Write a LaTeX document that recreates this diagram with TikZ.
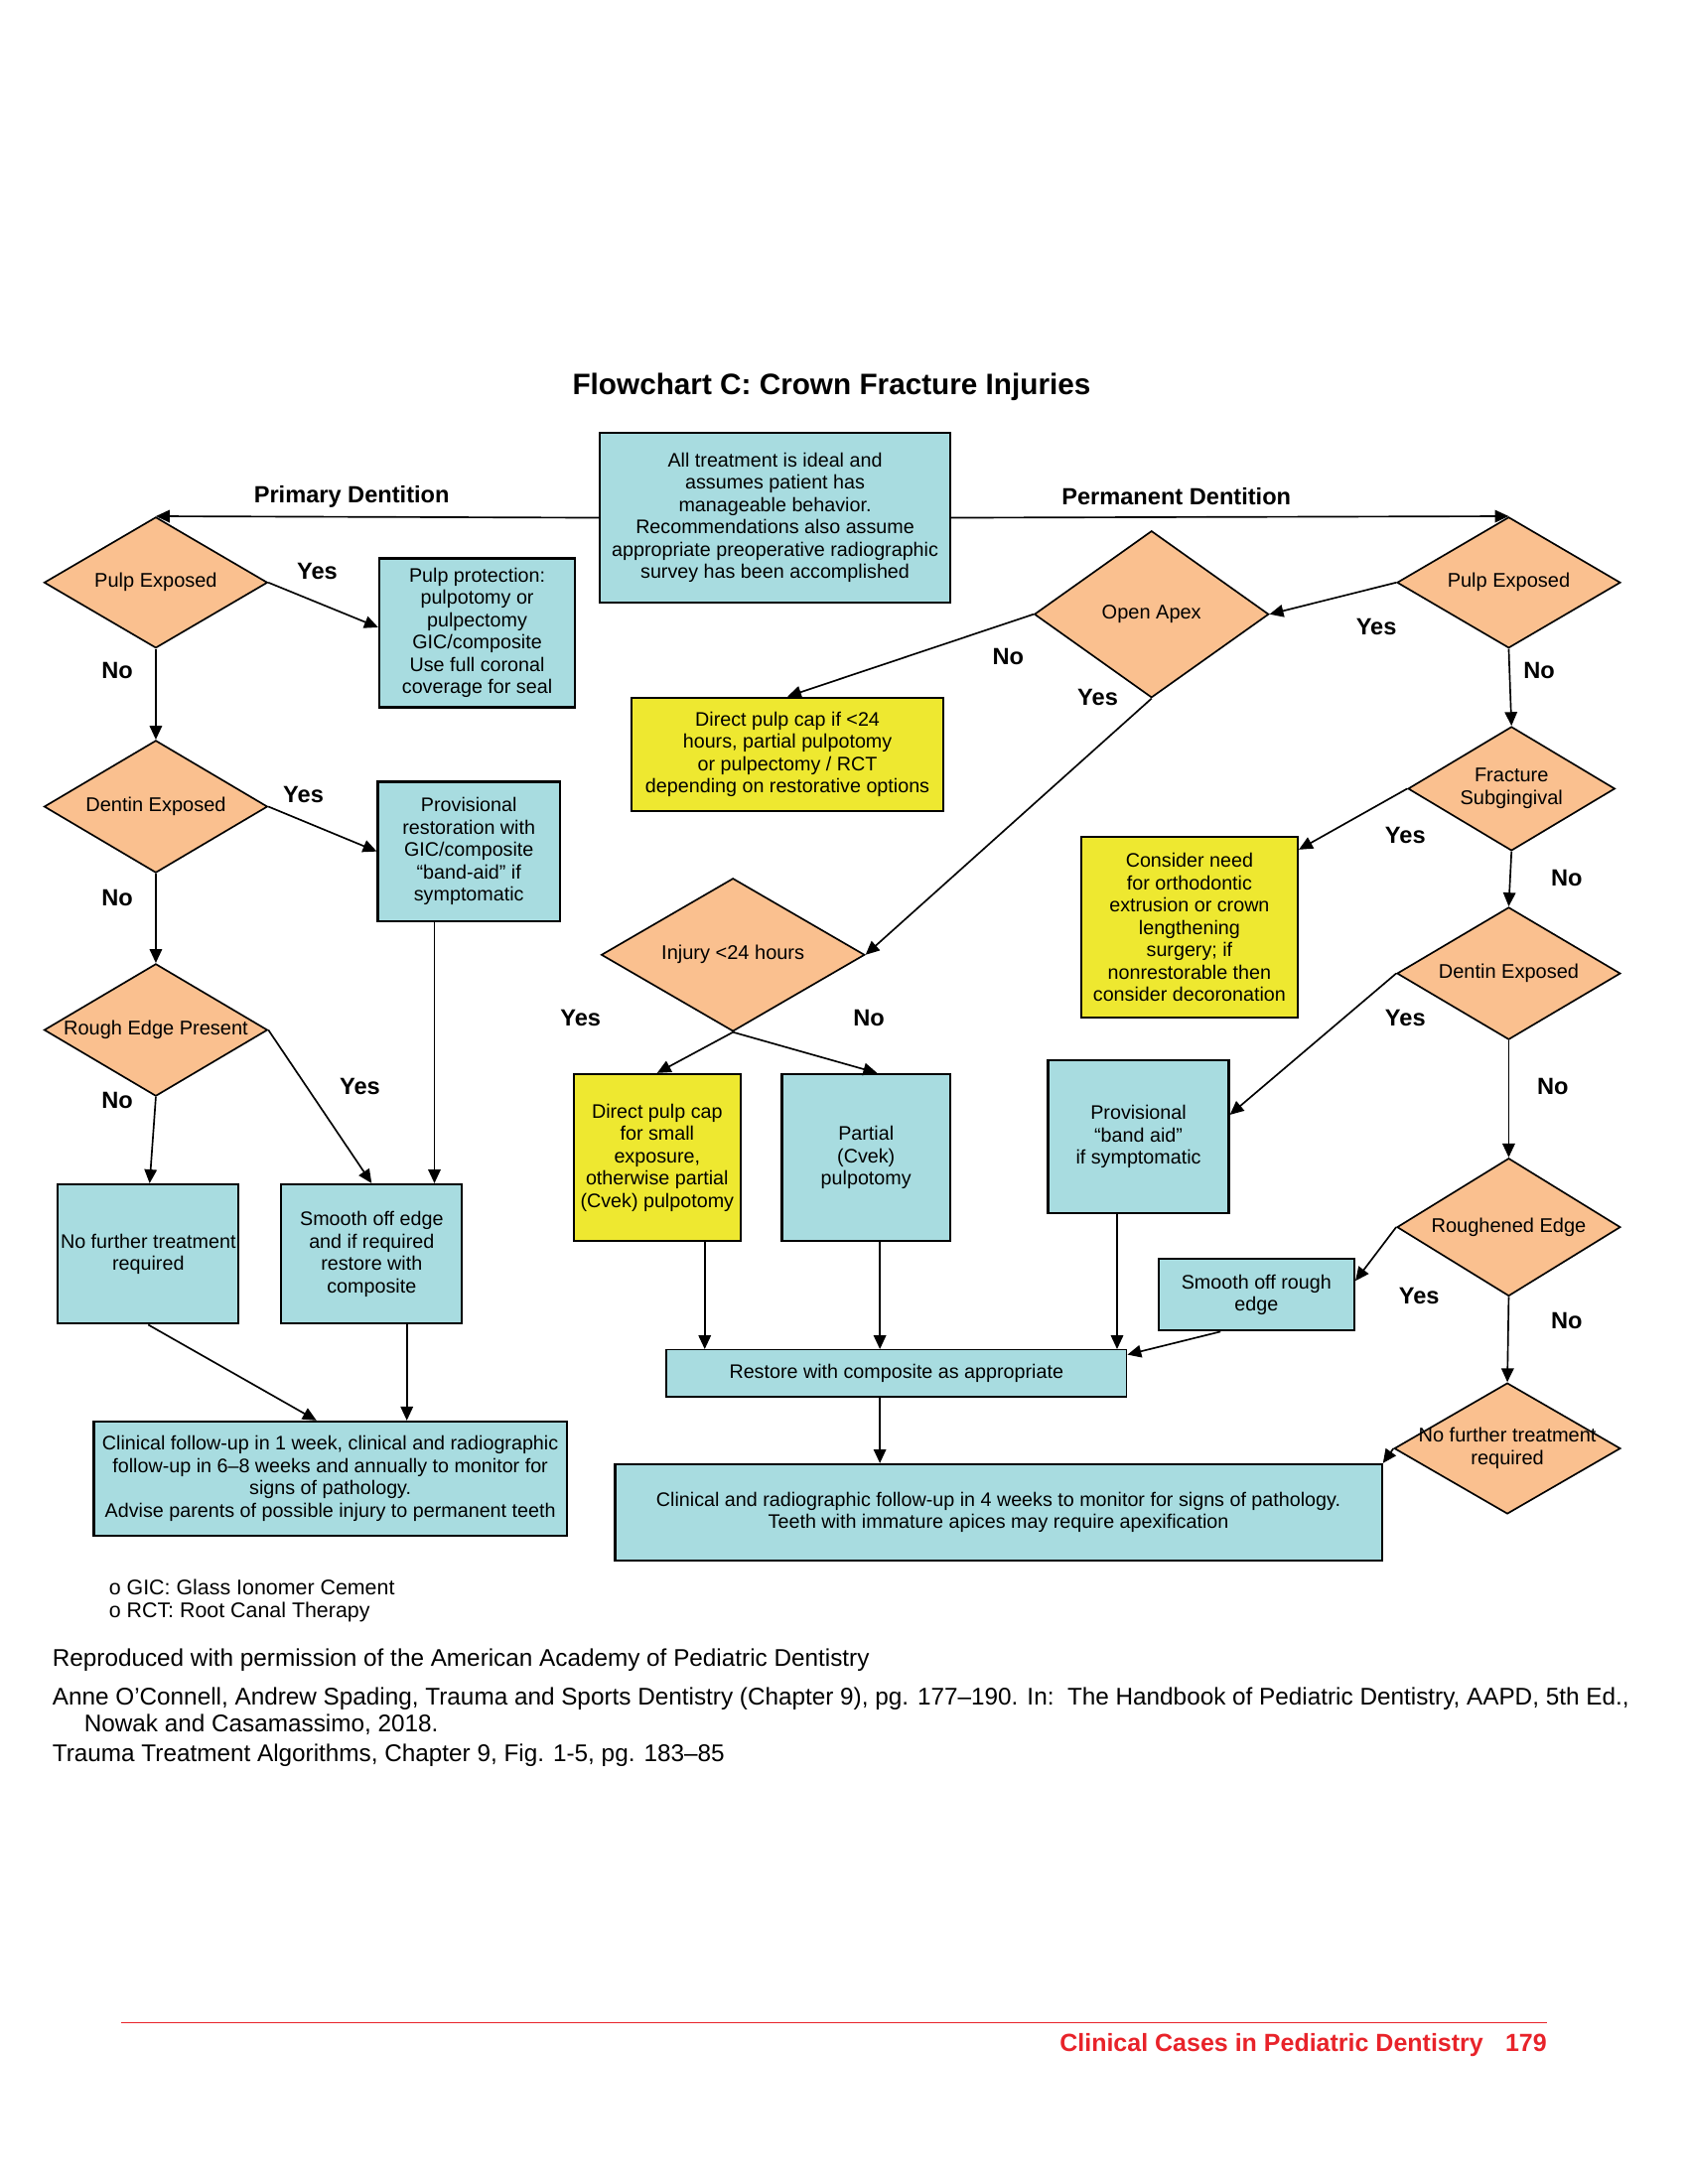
\documentclass[tikz,border=0pt]{standalone}
\usepackage{fontspec}
\setmainfont{Liberation Sans}
\usetikzlibrary{arrows.meta,shapes.geometric}

\definecolor{peach}{RGB}{250,192,143}
\definecolor{aqua}{RGB}{168,220,224}
\definecolor{lemon}{RGB}{238,232,48}
\definecolor{pagered}{RGB}{232,35,42}

\tikzset{
  box/.style={draw, line width=0.8pt, fill=aqua, align=center, inner sep=0pt,
    font=\fontsize{7.1}{8.1}\selectfont},
  ybox/.style={box, fill=lemon},
  dec/.style={diamond, draw, line width=0.6pt, fill=peach, inner sep=0pt,
    minimum width=81pt, minimum height=47.5pt,
    label={[align=center, font=\fontsize{7.2}{8.4}\selectfont]center:#1}},
  yn/.style={font=\bfseries\fontsize{8.5}{10}\selectfont},
  arr/.style={line width=0.6pt, -{Triangle[length=5pt,width=4.5pt]}},
  note/.style={anchor=west, font=\fontsize{8.75}{10.5}\selectfont},
}

\begin{document}
\begin{tikzpicture}[x=0.5pt, y=-0.5pt]
  \useasboundingbox (0,0) rectangle (1224,1584);

  % Title
  \node[font=\bfseries\fontsize{10.7}{12.8}\selectfont] (title) at (603,281) {Flowchart C: Crown Fracture Injuries};

  % Start
  \node[box, minimum width=127pt, minimum height=61.5pt] (intro) at (562,375.5)
    {All treatment is ideal and\\ assumes patient has\\ manageable behavior.\\ Recommendations also assume\\ appropriate preoperative radiographic\\ survey has been accomplished};
  \node[yn] (prim) at (255,360) {Primary Dentition};
  \node[yn] (perm) at (853,360) {Permanent Dentition};

  % Primary dentition
  \node[dec=Pulp Exposed] (pulpL) at (113,422.5) {};
  \node[box, minimum width=71pt, minimum height=54pt] (protL) at (346,459)
    {Pulp protection:\\ pulpotomy or\\ pulpectomy\\ GIC/composite\\ Use full coronal\\ coverage for seal};
  \node[dec=Dentin Exposed, minimum height=48pt] (dentL) at (113,585) {};
  \node[box, minimum width=66pt, minimum height=50.5pt] (provL) at (340,617.5)
    {Provisional\\ restoration with\\ GIC/composite\\ “band-aid” if\\ symptomatic};
  \node[dec=Rough Edge Present, minimum height=48pt] (roughL) at (113,747) {};
  \node[box, minimum width=65.5pt, minimum height=50.5pt] (nofL) at (107.5,909.5)
    {No further treatment\\ required};
  \node[box, minimum width=65.5pt, minimum height=50.5pt] (smoothL) at (269.5,909.5)
    {Smooth off edge\\ and if required\\ restore with\\ composite};
  \node[box, minimum width=171.5pt, minimum height=41.5pt] (folL) at (239.5,1072.5)
    {Clinical follow-up in 1 week, clinical and radiographic\\ follow-up in 6--8 weeks and annually to monitor for\\ signs of pathology.\\ Advise parents of possible injury to permanent teeth};

  \draw[arr] (intro.west) -- (pulpL.north);
  \draw[arr] (pulpL.east) -- ([yshift=2pt]protL.west);
  \draw[arr] (pulpL.south) -- (dentL.north);
  \draw[arr] (dentL.east) -- (provL.west);
  \draw[arr] (dentL.south) -- (roughL.north);
  \draw[arr] (roughL.south) -- ([xshift=0.5pt]nofL.north);
  \draw[arr] (roughL.east) -- (smoothL.north);
  \draw[arr] ([xshift=-12.5pt]provL.south) -- ([xshift=-12.5pt]provL.south |- smoothL.north);
  \draw[arr] (nofL.south) -- ([xshift=-5pt]folL.north);
  \draw[arr] ([xshift=12.75pt]smoothL.south) -- ([xshift=12.75pt]smoothL.south |- folL.north);

  \node[yn] (yesL1) at (230,414) {Yes};
  \node[yn] (noL1) at (85,486) {No};
  \node[yn] (yesL2) at (220,576) {Yes};
  \node[yn] (noL2) at (85,651) {No};
  \node[yn] (noL3) at (85,798) {No};
  \node[yn] (yesL3) at (261,788) {Yes};

  % Permanent dentition
  \node[dec=Pulp Exposed] (pulpR) at (1094,422.5) {};
  \node[dec=Open Apex, minimum width=85pt, minimum height=60.5pt] (apex) at (835,445.5) {};
  \node[ybox, minimum width=113pt, minimum height=41pt] (capA) at (571,547)
    {Direct pulp cap if <24\\ hours, partial pulpotomy\\ or pulpectomy / RCT\\ depending on restorative options};
  \node[dec={Injury <24 hours}, minimum width=95.5pt, minimum height=55.5pt] (injury) at (531.5,692.5) {};
  \node[ybox, minimum width=60.5pt, minimum height=60.5pt] (capB) at (476.5,839.5)
    {Direct pulp cap\\ for small\\ exposure,\\ otherwise partial\\ (Cvek) pulpotomy};
  \node[box, minimum width=61pt, minimum height=60.5pt] (cvek) at (628,839.5)
    {Partial\\ (Cvek)\\ pulpotomy};
  \node[dec={Fracture\\ Subgingival}, minimum width=75pt, minimum height=45pt] (subg) at (1096,572) {};
  \node[ybox, minimum width=78.5pt, minimum height=65.5pt] (ortho) at (862.5,672.5)
    {Consider need\\ for orthodontic\\ extrusion or crown\\ lengthening\\ surgery; if\\ nonrestorable then\\ consider decoronation};
  \node[dec=Dentin Exposed, minimum height=48pt] (dentR) at (1094,706) {};
  \node[box, minimum width=65.5pt, minimum height=55.5pt] (provR) at (825.5,824.5)
    {Provisional\\ “band aid”\\ if symptomatic};
  \node[dec=Roughened Edge, minimum height=50pt] (roughR) at (1094,890) {};
  \node[box, minimum width=71pt, minimum height=26pt] (smoothR) at (911,939)
    {Smooth off rough\\ edge};
  \node[dec={No further treatment\\ required}, minimum width=82pt] (nofR) at (1093,1050.5) {};
  \node[box, minimum width=167pt, minimum height=17pt, line width=0.5pt] (restore) at (650,996)
    {Restore with composite as appropriate};
  \node[box, minimum width=278pt, minimum height=35pt] (folR) at (724,1097)
    {Clinical and radiographic follow-up in 4 weeks to monitor for signs of pathology.\\ Teeth with immature apices may require apexification};

  \draw[arr] (intro.east) -- (pulpR.north);
  \draw[arr] (pulpR.west) -- (apex.east);
  \draw[arr] (apex.west) -- (capA.north);
  \draw[arr] (apex.south) -- (injury.east);
  \draw[arr] (injury.south) -- (capB.north);
  \draw[arr] (injury.south) -- ([xshift=4pt]cvek.north);
  \draw[arr] (pulpR.south) -- (subg.north);
  \draw[arr] (subg.west) -- ([yshift=-5pt]ortho.north east);
  \draw[arr] (subg.south) -- (dentR.north);
  \draw[arr] (dentR.west) -- ([yshift=8pt]provR.east);
  \draw[arr] (dentR.south) -- (roughR.north);
  \draw[arr] (roughR.west) -- ([yshift=5pt]smoothR.east);
  \draw[arr] (roughR.south) -- (nofR.north);
  \draw[arr] ([xshift=17.25pt]capB.south) -- ([xshift=17.25pt]capB.south |- restore.north);
  \draw[arr] ([xshift=5pt]cvek.south) -- ([xshift=5pt]cvek.south |- restore.north);
  \draw[arr] ([xshift=-7.75pt]provR.south) -- ([xshift=-7.75pt]provR.south |- restore.north);
  \draw[arr] ([xshift=-13pt]smoothR.south) -- ([yshift=-2pt]restore.north east);
  \draw[arr] ([xshift=-6pt]restore.south) -- ([xshift=-6pt]restore.south |- folR.north);
  \draw[arr] (nofR.west) -- (folR.north east);

  \node[yn] (yesR1) at (998,455) {Yes};
  \node[yn] (noR1) at (1116,486) {No};
  \node[yn] (noA) at (731,476) {No};
  \node[yn] (yesA) at (796,506) {Yes};
  \node[yn] (yesI) at (421,738) {Yes};
  \node[yn] (noI) at (630,738) {No};
  \node[yn] (yesR2) at (1019,606) {Yes};
  \node[yn] (noR2) at (1136,637) {No};
  \node[yn] (yesR3) at (1019,738) {Yes};
  \node[yn] (noR3) at (1126,788) {No};
  \node[yn] (yesR4) at (1029,940) {Yes};
  \node[yn] (noR4) at (1136,958) {No};

  % Legend and sources
  \node[note, font=\fontsize{7.7}{9}\selectfont] (gic) at (72,1151) {o GIC: Glass Ionomer Cement};
  \node[note, font=\fontsize{7.7}{9}\selectfont] (rct) at (72,1169) {o RCT: Root Canal Therapy};
  \node[note] (perm1) at (31,1204) {Reproduced with permission of the American Academy of Pediatric Dentistry};
  \node[note] (src1) at (31,1232) {Anne O’Connell, Andrew Spading, Trauma and Sports Dentistry (Chapter 9), pg. 177--190. In:\ \ The Handbook of Pediatric Dentistry, AAPD, 5th Ed.,};
  \node[note] (src2) at (54,1251) {Nowak and Casamassimo, 2018.};
  \node[note] (src3) at (31,1273) {Trauma Treatment Algorithms, Chapter 9, Fig. 1-5, pg. 183--85};

  % Page footer
  \draw[pagered, line width=0.5pt] (88,1467) -- (1122,1467);
  \node[anchor=east, text=pagered, font=\bfseries\fontsize{9}{11}\selectfont, inner sep=0pt] (foot) at (1122,1483)
    {Clinical Cases in Pediatric Dentistry\hspace{8pt}179};
\end{tikzpicture}
\end{document}
